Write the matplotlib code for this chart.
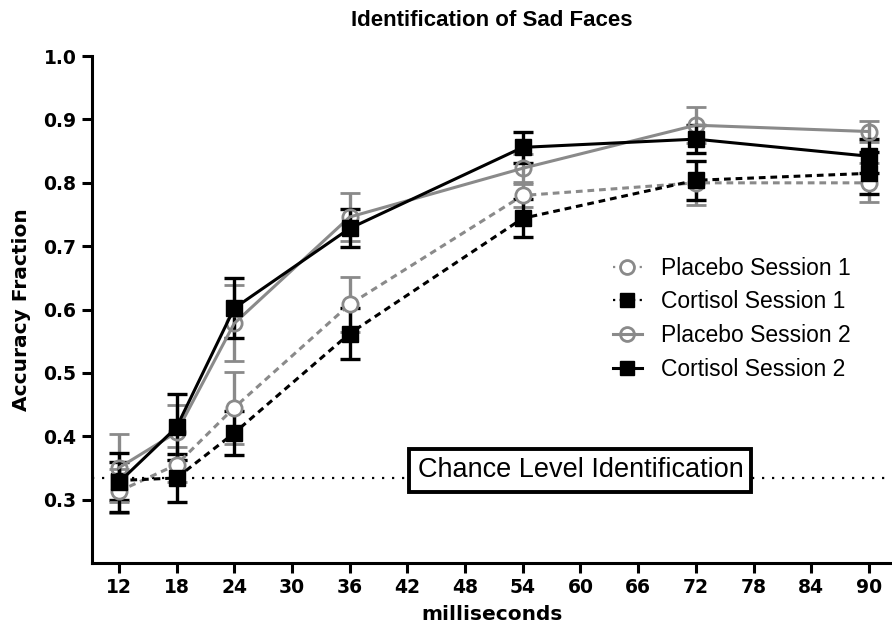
import matplotlib
matplotlib.use("Agg")
import matplotlib.pyplot as plt
from matplotlib.lines import Line2D

plt.rcParams['font.family'] = ['Liberation Sans', 'DejaVu Sans']

ms_points = [12, 18, 24, 36, 54, 72, 90]
xtick_vals = [12, 18, 24, 30, 36, 42, 48, 54, 60, 66, 72, 78, 84, 90]
ytick_vals = [0.3, 0.4, 0.5, 0.6, 0.7, 0.8, 0.9, 1.0]

placebo_s1 = [0.313, 0.355, 0.445, 0.608, 0.780, 0.800, 0.800]
placebo_s1_err = [0.035, 0.028, 0.057, 0.044, 0.018, 0.035, 0.031]
cortisol_s1 = [0.330, 0.334, 0.405, 0.562, 0.744, 0.804, 0.815]
cortisol_s1_err = [0.030, 0.038, 0.035, 0.040, 0.030, 0.031, 0.033]
placebo_s2 = [0.350, 0.406, 0.578, 0.746, 0.823, 0.891, 0.881]
placebo_s2_err = [0.054, 0.043, 0.060, 0.038, 0.022, 0.028, 0.016]
cortisol_s2 = [0.327, 0.414, 0.602, 0.728, 0.856, 0.869, 0.842]
cortisol_s2_err = [0.046, 0.052, 0.047, 0.030, 0.025, 0.022, 0.027]
series_labels = ['Placebo Session 1', 'Cortisol Session 1',
                 'Placebo Session 2', 'Cortisol Session 2']
chance = 1.0 / 3

fig = plt.figure(figsize=(8.92, 6.31), dpi=100)
ax = fig.add_axes([0.103, 0.108, 0.897, 0.803])

gray = '#8a8a8a'
dash = (0, (2.2, 1.6))
common = dict(capsize=7, capthick=2.4, elinewidth=2.4, markersize=11, lw=2.2)

styles = [
    dict(color=gray, ls=dash, marker='o', mfc='white', mec=gray, mew=2),
    dict(color='black', ls=dash, marker='s', mfc='black', mec='black'),
    dict(color=gray, ls='-', marker='o', mfc='none', mec=gray, mew=2),
    dict(color='black', ls='-', marker='s', mfc='black', mec='black'),
]
values = [placebo_s1, cortisol_s1, placebo_s2, cortisol_s2]
errors = [placebo_s1_err, cortisol_s1_err, placebo_s2_err, cortisol_s2_err]

for vals, errs, st in zip(values, errors, styles):
    ax.errorbar(ms_points, vals, yerr=errs, **st, **common)

ax.axhline(chance, color='black', ls=(0, (1, 3.5)), lw=1.6, zorder=0)
ax.text(60, 0.346, 'Chance Level Identification', ha='center', va='center',
        fontsize=19.5, zorder=5,
        bbox=dict(boxstyle='square,pad=0.3', fc='white', ec='black', lw=2.8))

ax.set_xlim(9.2, 92.4)
ax.set_ylim(0.2, 1.0)
ax.set_xticks(xtick_vals)
ax.set_yticks(ytick_vals)
ax.set_yticklabels(['%.1f' % v for v in ytick_vals])
ax.tick_params(width=2.2, length=7, pad=4)
for lbl in ax.get_xticklabels() + ax.get_yticklabels():
    lbl.set_fontweight('bold')
    lbl.set_family('DejaVu Sans')
    lbl.set_fontsize(13.5)
for side in ['top', 'right']:
    ax.spines[side].set_visible(False)
for side in ['left', 'bottom']:
    ax.spines[side].set_linewidth(2.2)

ax.set_xlabel('milliseconds', fontsize=14.5, fontweight='bold',
              family='DejaVu Sans', labelpad=6)
ax.set_ylabel('Accuracy Fraction', fontsize=14.5, fontweight='bold',
              family='DejaVu Sans', labelpad=9)
ax.set_title('Identification of Sad Faces', fontsize=16, fontweight='bold', pad=22)

# legend handles without the error bars
handles = [Line2D([], [], markersize=10,
                  lw=2.2 if st['ls'] == '-' else 1.6,
                  ls=st['ls'] if st['ls'] == '-' else (0, (1, 2)),
                  **{k: v for k, v in st.items() if k != 'ls'})
           for st in styles]
ax.legend(handles, series_labels, loc='upper left', bbox_to_anchor=(0.625, 0.645),
          frameon=False, fontsize=16.5, handlelength=1.3, labelspacing=0.47,
          handletextpad=0.8)

fig.savefig('out.png', dpi=100)
